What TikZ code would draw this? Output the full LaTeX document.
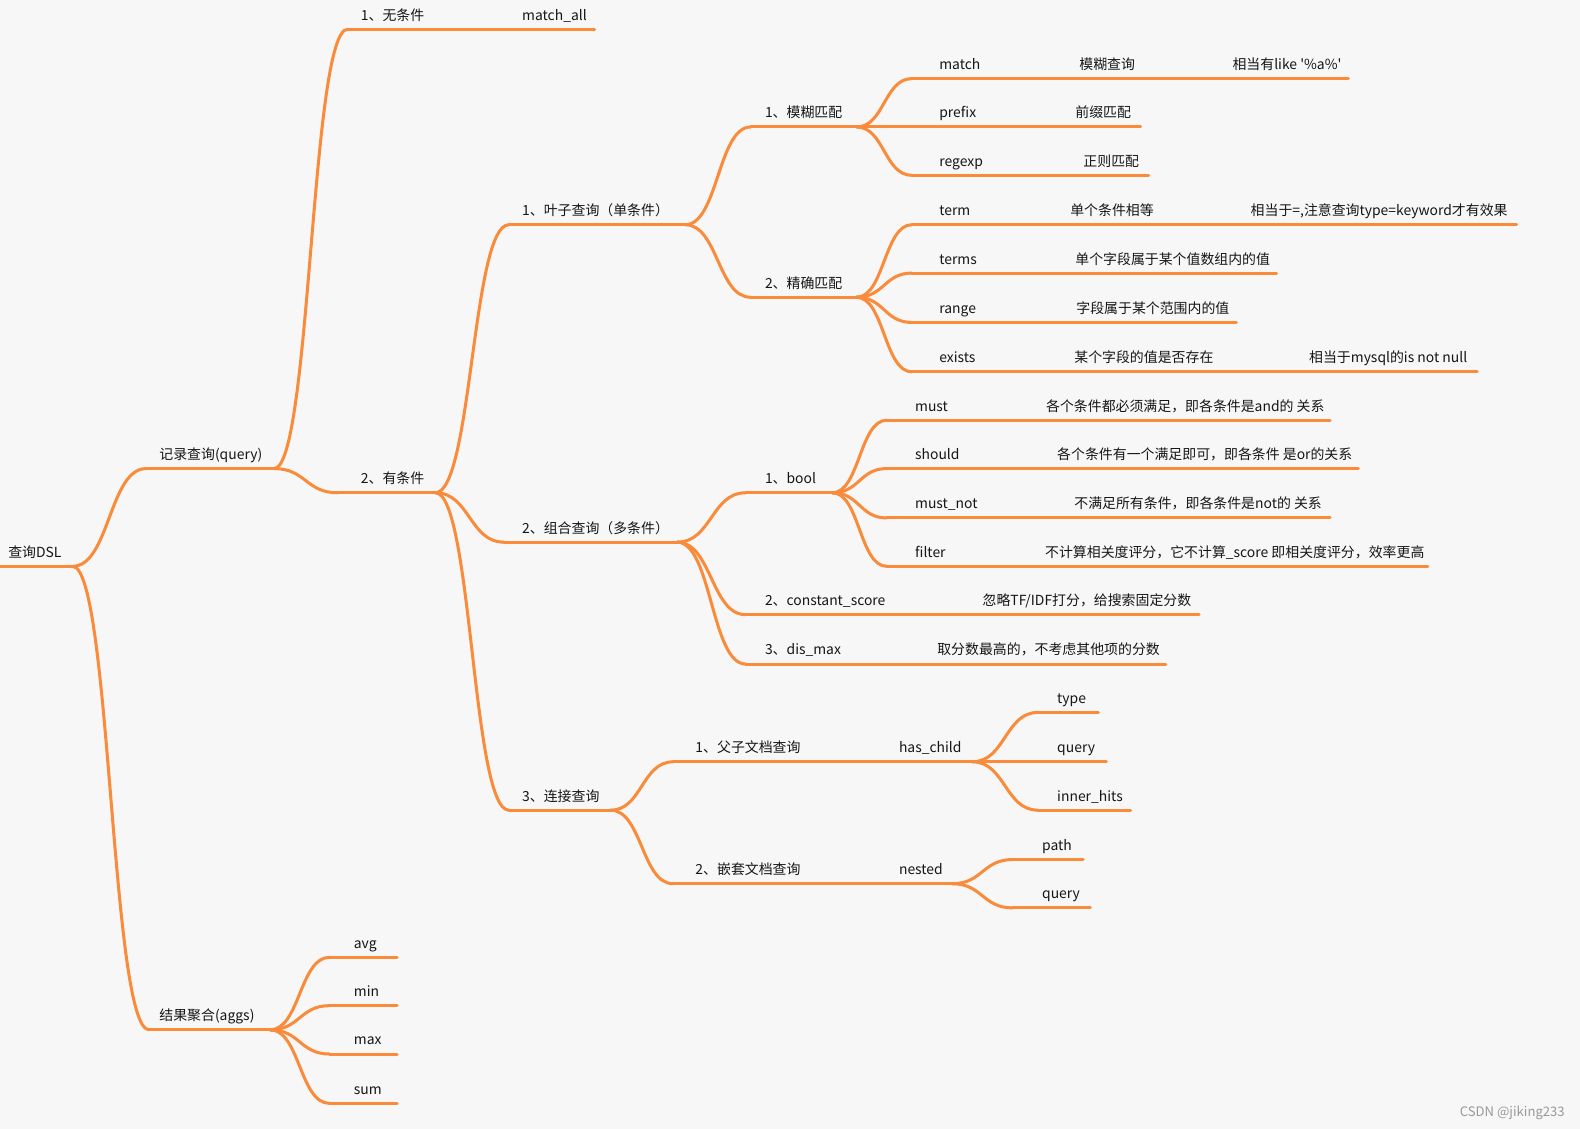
\documentclass[tikz,border=0pt]{standalone}
\usepackage{fontspec}
\setmainfont{Noto Sans CJK SC}
\usetikzlibrary{calc}
\definecolor{bgc}{HTML}{F7F7F7}
\definecolor{brc}{HTML}{F98B3A}
\definecolor{txc}{HTML}{161616}
\newcommand\mmrow[4]{\coordinate (#1s) at (#2,#4); \coordinate (#1e) at (#3,#4); \draw[brline] (#1s) -- (#1e);}
\newcommand\mmconn[2]{\draw[brline] (#1e) .. controls ($(#1e)!0.5!(#2s |- #1e)$) and ($(#2s)!0.5!(#1e |- #2s)$) .. (#2s);}
\newcommand\mmtxt[4]{\node[lbl] (#1) at (#2,#3-9) {#4};}
\begin{document}
\begin{tikzpicture}[x=1pt,y=-1pt,
  brline/.style={draw=brc,line width=3pt,line cap=round},
  lbl/.style={anchor=base west,inner sep=0pt,font=\fontsize{13.8}{16}\selectfont,text=txc}]
\fill[bgc] (0,0) rectangle (1568,1120);
\useasboundingbox (0,0) rectangle (1568,1120);
% rows
\mmrow{root}{0}{72}{562}
\mmrow{rec}{145}{272}{465}
\mmrow{agg}{148}{268}{1022}
\mmrow{wu}{345}{590}{29}
\mmrow{you}{335}{432}{489}
\mmrow{leaf}{505}{680}{223}
\mmrow{comb}{500}{672}{538}
\mmrow{join}{505}{606}{804}
\mmrow{mh}{745}{850}{126}
\mmrow{jq}{745}{850}{295}
\mmrow{match}{905}{1338}{78}
\mmrow{prefix}{905}{1132}{126}
\mmrow{regexp}{905}{1140}{174}
\mmrow{term}{905}{1505}{223}
\mmrow{terms}{905}{1267}{271}
\mmrow{range}{905}{1227}{320}
\mmrow{exists}{905}{1466}{369}
\mmrow{bool}{740}{826}{489}
\mmrow{cs}{740}{1190}{610}
\mmrow{dm}{740}{1157}{659}
\mmrow{must}{880}{1320}{417}
\mmrow{should}{880}{1348}{465}
\mmrow{mustnot}{880}{1320}{514}
\mmrow{filter}{880}{1417}{562}
\mmrow{fz}{668}{965}{756}
\mmrow{qt}{668}{945}{877}
\mmrow{type}{1030}{1090}{707}
\mmrow{queryA}{1030}{1098}{756}
\mmrow{inner}{1030}{1122}{804}
\mmrow{path}{1005}{1075}{853}
\mmrow{queryB}{1005}{1082}{901}
\mmrow{avg}{327}{394}{950}
\mmrow{min}{327}{394}{998}
\mmrow{max}{327}{394}{1046}
\mmrow{sum}{327}{394}{1095}
% connectors
\mmconn{root}{rec}
\mmconn{root}{agg}
\mmconn{rec}{wu}
\mmconn{rec}{you}
\mmconn{you}{leaf}
\mmconn{you}{comb}
\mmconn{you}{join}
\mmconn{leaf}{mh}
\mmconn{leaf}{jq}
\mmconn{mh}{match}
\mmconn{mh}{prefix}
\mmconn{mh}{regexp}
\mmconn{jq}{term}
\mmconn{jq}{terms}
\mmconn{jq}{range}
\mmconn{jq}{exists}
\mmconn{comb}{bool}
\mmconn{comb}{cs}
\mmconn{comb}{dm}
\mmconn{bool}{must}
\mmconn{bool}{should}
\mmconn{bool}{mustnot}
\mmconn{bool}{filter}
\mmconn{join}{fz}
\mmconn{join}{qt}
\mmconn{fz}{type}
\mmconn{fz}{queryA}
\mmconn{fz}{inner}
\mmconn{qt}{path}
\mmconn{qt}{queryB}
\mmconn{agg}{avg}
\mmconn{agg}{min}
\mmconn{agg}{max}
\mmconn{agg}{sum}
% texts
\mmtxt{t-root}{8}{562}{查询DSL}
\mmtxt{t-rec}{158}{465}{记录查询(query)}
\mmtxt{t-agg}{158}{1022}{结果聚合(aggs)}
\mmtxt{t-wu}{358}{29}{1、无条件}
\mmtxt{t-wu2}{518}{29}{match\_all}
\mmtxt{t-you}{358}{489}{2、有条件}
\mmtxt{t-leaf}{518}{223}{1、叶子查询（单条件）}
\mmtxt{t-comb}{518}{538}{2、组合查询（多条件）}
\mmtxt{t-join}{518}{804}{3、连接查询}
\mmtxt{t-mh}{759}{126}{1、模糊匹配}
\mmtxt{t-jq}{759}{295}{2、精确匹配}
\mmtxt{t-match}{932}{78}{match}
\mmtxt{t-match2}{1071}{78}{模糊查询}
\mmtxt{t-match3}{1223}{78}{相当有like \textquotesingle\%a\%\textquotesingle}
\mmtxt{t-prefix}{932}{126}{prefix}
\mmtxt{t-prefix2}{1067}{126}{前缀匹配}
\mmtxt{t-regexp}{932}{174}{regexp}
\mmtxt{t-regexp2}{1075}{174}{正则匹配}
\mmtxt{t-term}{932}{223}{term}
\mmtxt{t-term2}{1062}{223}{单个条件相等}
\mmtxt{t-term3}{1241}{223}{相当于=,注意查询type=keyword才有效果}
\mmtxt{t-terms}{932}{271}{terms}
\mmtxt{t-terms2}{1067}{271}{单个字段属于某个值数组内的值}
\mmtxt{t-range}{932}{320}{range}
\mmtxt{t-range2}{1068}{320}{字段属于某个范围内的值}
\mmtxt{t-exists}{932}{369}{exists}
\mmtxt{t-exists2}{1066}{369}{某个字段的值是否存在}
\mmtxt{t-exists3}{1299}{369}{相当于mysql的is not null}
\mmtxt{t-bool}{759}{489}{1、bool}
\mmtxt{t-cs}{759}{610}{2、constant\_score}
\mmtxt{t-cs2}{975}{610}{忽略TF/IDF打分，给搜索固定分数}
\mmtxt{t-dm}{759}{659}{3、dis\_max}
\mmtxt{t-dm2}{930}{659}{取分数最高的，不考虑其他项的分数}
\mmtxt{t-must}{908}{417}{must}
\mmtxt{t-must2}{1038}{417}{各个条件都必须满足，即各条件是and的 关系}
\mmtxt{t-should}{908}{465}{should}
\mmtxt{t-should2}{1049}{465}{各个条件有一个满足即可，即各条件 是or的关系}
\mmtxt{t-mustnot}{908}{514}{must\_not}
\mmtxt{t-mustnot2}{1066}{514}{不满足所有条件，即各条件是not的 关系}
\mmtxt{t-filter}{908}{562}{filter}
\mmtxt{t-filter2}{1037}{562}{不计算相关度评分，它不计算\_score 即相关度评分，效率更高}
\mmtxt{t-fz}{690}{756}{1、父子文档查询}
\mmtxt{t-fz2}{892}{756}{has\_child}
\mmtxt{t-qt}{690}{877}{2、嵌套文档查询}
\mmtxt{t-qt2}{892}{877}{nested}
\mmtxt{t-type}{1049}{707}{type}
\mmtxt{t-queryA}{1049}{756}{query}
\mmtxt{t-inner}{1049}{804}{inner\_hits}
\mmtxt{t-path}{1034}{853}{path}
\mmtxt{t-queryB}{1034}{901}{query}
\mmtxt{t-avg}{351}{950}{avg}
\mmtxt{t-min}{351}{998}{min}
\mmtxt{t-max}{351}{1046}{max}
\mmtxt{t-sum}{351}{1095}{sum}
\node[anchor=base east,inner sep=0pt,font=\fontsize{13}{15}\selectfont,text=black!40] (wm) at (1553,1108) {CSDN @jiking233};
\end{tikzpicture}
\end{document}
